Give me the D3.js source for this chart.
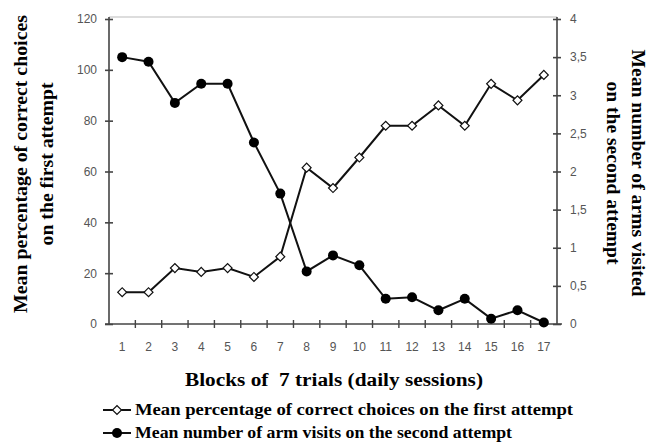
<!DOCTYPE html>
<html>
<head>
<meta charset="utf-8">
<script src="https://cdn.jsdelivr.net/npm/d3@7"></script>
<style>
  body { margin: 0; background: #fff; }
  svg { display: block; }
</style>
</head>
<body>
<svg id="chart" width="660" height="444"></svg>
<script>
// Blocks of 7 trials (daily sessions)
const blocks = [1, 2, 3, 4, 5, 6, 7, 8, 9, 10, 11, 12, 13, 14, 15, 16, 17];
// Mean percentage of correct choices on the first attempt (left axis)
const correctPct = [12.5, 12.5, 22, 20.5, 22, 18.5, 26.5, 61.5, 53.5, 65.5, 78, 78, 86, 78, 94.5, 88, 98];
// Mean number of arm visits on the second attempt (right axis)
const armVisits = [3.5, 3.44, 2.9, 3.15, 3.15, 2.38, 1.71, 0.69, 0.9, 0.77, 0.33, 0.35, 0.18, 0.33, 0.07, 0.18, 0.02];

const leftTicks = [0, 20, 40, 60, 80, 100, 120];
const rightTicks = [0, 0.5, 1, 1.5, 2, 2.5, 3, 3.5, 4];

const serif = "'Liberation Serif', 'Times New Roman', serif";
const sans = "'Liberation Sans', Arial, sans-serif";
const axisColor = "#444";

const svg = d3.select("#chart");
const margin = { left: 109, right: 103, top: 19, bottom: 120 };
const width = 660 - margin.left - margin.right;
const height = 444 - margin.top - margin.bottom;

const g = svg.append("g").attr("transform", `translate(${margin.left},${margin.top})`);

const x = d3.scaleBand().domain(blocks).range([0, width]);
const yLeft = d3.scaleLinear().domain([0, 120]).range([height, 0]);
const yRight = d3.scaleLinear().domain([0, 4]).range([height, 0]);
const cx = d => x(d) + x.bandwidth() / 2;

// light top frame line
g.append("line")
    .attr("x1", 0).attr("x2", width)
    .attr("y1", -2).attr("y2", -2)
    .style("stroke", "#bbb").style("stroke-width", 1);

// Left axis
const leftAxis = g.append("g")
    .call(d3.axisLeft(yLeft).tickValues(leftTicks).tickSize(4).tickPadding(8));
leftAxis.selectAll(".tick line").attr("x1", -4).attr("x2", 4);

// Right axis
const rightAxis = g.append("g")
    .attr("transform", `translate(${width},0)`)
    .call(d3.axisRight(yRight).tickValues(rightTicks).tickSize(4).tickPadding(9)
        .tickFormat(d => String(d).replace(".", ",")));
rightAxis.selectAll(".tick line").attr("x1", -4).attr("x2", 4);

[leftAxis, rightAxis].forEach(a => {
    a.select(".domain").attr("d", `M0,-2V${height}`);
    a.selectAll("path, line").style("stroke", axisColor).style("stroke-width", 1.6);
    a.selectAll("text")
        .style("font-family", sans).style("font-size", "12px").style("fill", "#555");
});

// Bottom axis: ticks on band boundaries, labels centred
const xAxis = g.append("g").attr("transform", `translate(0,${height})`);
xAxis.append("line")
    .attr("x1", -4).attr("x2", width + 5)
    .style("stroke", axisColor).style("stroke-width", 1.6);
xAxis.selectAll(".xtick")
    .data(blocks.slice(1))
    .enter().append("line")
    .attr("class", "xtick")
    .attr("x1", d => x(d)).attr("x2", d => x(d))
    .attr("y1", -4).attr("y2", 4)
    .style("stroke", axisColor).style("stroke-width", 1.4);
xAxis.selectAll(".xlabel")
    .data(blocks)
    .enter().append("text")
    .attr("class", "xlabel")
    .attr("x", d => cx(d))
    .attr("y", 27)
    .attr("text-anchor", "middle")
    .style("font-family", sans).style("font-size", "12px").style("fill", "#555")
    .text(d => d);

// Lines
const lineLeft = d3.line().x((d, i) => cx(blocks[i])).y(d => yLeft(d));
const lineRight = d3.line().x((d, i) => cx(blocks[i])).y(d => yRight(d));

g.append("path").datum(armVisits)
    .attr("d", lineRight)
    .style("fill", "none").style("stroke", "#111").style("stroke-width", 2);
g.append("path").datum(correctPct)
    .attr("d", lineLeft)
    .style("fill", "none").style("stroke", "#111").style("stroke-width", 2);

// Markers
const diamond = d3.symbol().type(d3.symbolSquare).size(40);

g.selectAll(".dotFilled")
    .data(armVisits)
    .enter().append("circle")
    .attr("class", "dotFilled")
    .attr("cx", (d, i) => cx(blocks[i]))
    .attr("cy", d => yRight(d))
    .attr("r", 5)
    .style("fill", "#000");

g.selectAll(".dotOpen")
    .data(correctPct)
    .enter().append("path")
    .attr("class", "dotOpen")
    .attr("d", diamond)
    .attr("transform", (d, i) => `translate(${cx(blocks[i])},${yLeft(d)}) rotate(45)`)
    .style("fill", "#fff").style("stroke", "#111").style("stroke-width", 1.2);

// Axis titles (widths matched to the reference)
const titleStyle = sel => sel
    .style("font-family", serif).style("font-weight", "bold").style("font-size", "18px")
    .attr("lengthAdjust", "spacingAndGlyphs");

svg.append("text")
    .attr("x", 334).attr("y", 386)
    .attr("text-anchor", "middle")
    .call(titleStyle)
    .attr("textLength", 298)
    .attr("xml:space", "preserve")
    .text("Blocks of  7 trials (daily sessions)");

const leftTitle = svg.append("text")
    .attr("transform", "translate(0,164) rotate(-90)")
    .attr("text-anchor", "middle")
    .call(titleStyle);
leftTitle.append("tspan").attr("x", 0).attr("y", 27).attr("textLength", 298)
    .attr("lengthAdjust", "spacingAndGlyphs").text("Mean percentage of correct choices");
leftTitle.append("tspan").attr("x", 0).attr("y", 53).attr("textLength", 163)
    .attr("lengthAdjust", "spacingAndGlyphs").text("on the first attempt");

const rightTitle = svg.append("text")
    .attr("transform", "translate(660,173) rotate(90)")
    .attr("text-anchor", "middle")
    .call(titleStyle);
rightTitle.append("tspan").attr("x", 0).attr("y", 28).attr("textLength", 247)
    .attr("lengthAdjust", "spacingAndGlyphs").text("Mean number of arms visited");
rightTitle.append("tspan").attr("x", 0).attr("y", 53).attr("textLength", 183)
    .attr("lengthAdjust", "spacingAndGlyphs").text("on the second attempt");

// Legend
const legendItems = [
    { label: "Mean percentage of correct choices on the first attempt", open: true, len: 438 },
    { label: "Mean number of arm visits on the second attempt", open: false, len: 377 }
];
const legend = svg.append("g").attr("transform", "translate(103,410)");
legendItems.forEach((item, i) => {
    const row = legend.append("g").attr("transform", `translate(0,${i * 23})`);
    row.append("line")
        .attr("x1", 0).attr("x2", 28).attr("y1", 0).attr("y2", 0)
        .style("stroke", "#111").style("stroke-width", 2);
    if (item.open) {
        row.append("path").attr("d", diamond)
            .attr("transform", "translate(14,0) rotate(45)")
            .style("fill", "#fff").style("stroke", "#111").style("stroke-width", 1.2);
    } else {
        row.append("circle").attr("cx", 14).attr("cy", 0).attr("r", 5).style("fill", "#000");
    }
    row.append("text")
        .attr("x", 32).attr("y", 5)
        .style("font-family", serif).style("font-weight", "bold").style("font-size", "16px")
        .attr("textLength", item.len).attr("lengthAdjust", "spacingAndGlyphs")
        .text(item.label);
});
</script>
</body>
</html>
